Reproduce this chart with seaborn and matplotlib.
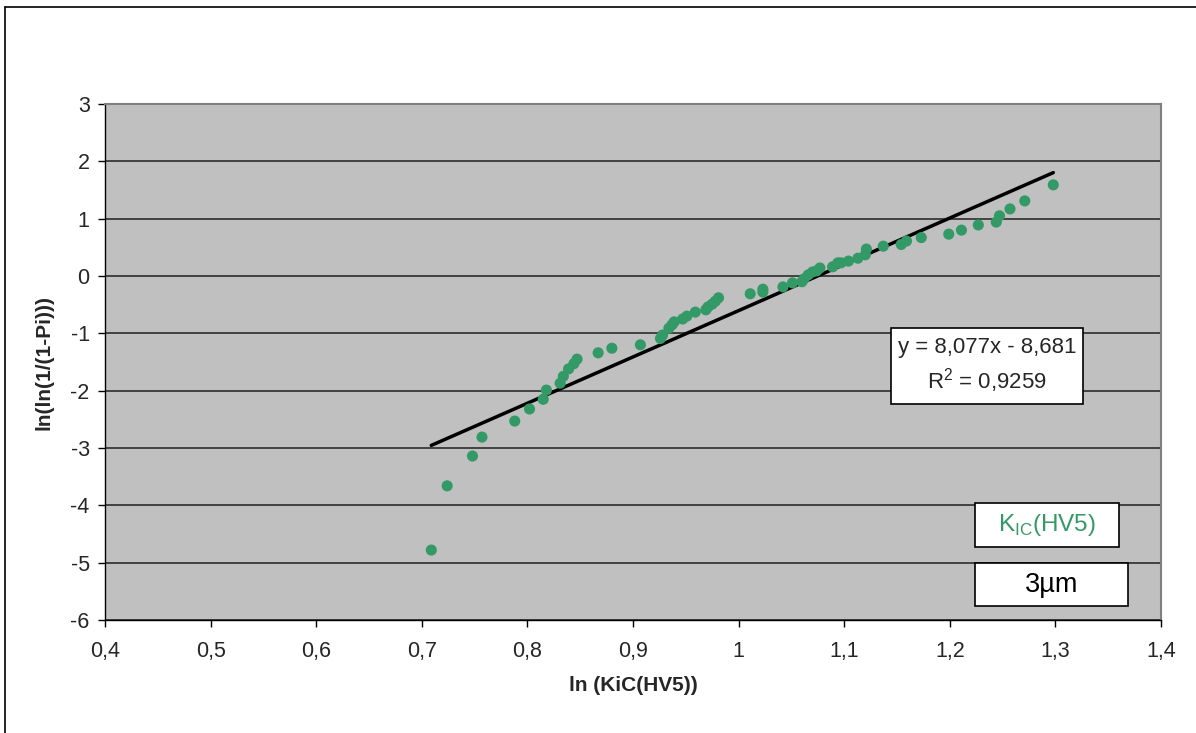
import numpy as np
import pandas as pd
import matplotlib
matplotlib.use("Agg")
import matplotlib.pyplot as plt
from matplotlib.ticker import FuncFormatter, MultipleLocator
from matplotlib.lines import Line2D
from matplotlib.patches import Rectangle
import seaborn as sns

# ln(KiC(HV5)) values and the matching Weibull ln(ln(1/(1-Pi)))
ln_kic = [0.709, 0.724, 0.748, 0.757, 0.788, 0.802, 0.815, 0.818, 0.831, 0.834,
          0.839, 0.844, 0.847, 0.867, 0.880, 0.907, 0.926, 0.928, 0.934, 0.937,
          0.939, 0.947, 0.951, 0.959, 0.969, 0.971, 0.975, 0.978, 0.981, 1.011,
          1.023, 1.023, 1.042, 1.051, 1.060, 1.062, 1.066, 1.070, 1.074, 1.077,
          1.089, 1.094, 1.097, 1.104, 1.113, 1.120, 1.121, 1.137, 1.154, 1.159,
          1.173, 1.199, 1.211, 1.227, 1.244, 1.247, 1.257, 1.271, 1.298]
ln_ln_p = [-4.78, -3.66, -3.14, -2.81, -2.53, -2.32, -2.15, -1.99, -1.87, -1.75,
           -1.62, -1.53, -1.45, -1.34, -1.26, -1.20, -1.09, -1.03, -0.91, -0.85,
           -0.80, -0.75, -0.70, -0.63, -0.59, -0.54, -0.49, -0.44, -0.38, -0.31,
           -0.28, -0.23, -0.19, -0.12, -0.10, -0.05, 0.02, 0.07, 0.09, 0.14,
           0.16, 0.23, 0.23, 0.26, 0.31, 0.37, 0.47, 0.52, 0.55, 0.61,
           0.67, 0.73, 0.80, 0.89, 0.94, 1.05, 1.17, 1.31, 1.59]

# Excel linear trendline
slope = 8.077
intercept = -8.681
r2 = 0.9259

green = "#339966"

df = pd.DataFrame({"x": ln_kic, "y": ln_ln_p})
trend = pd.DataFrame({"x": [min(ln_kic), max(ln_kic)]})
trend["y"] = slope * trend["x"] + intercept

sns.set_style("white")
plt.rcParams['font.family'] = ['Liberation Sans', 'DejaVu Sans']

W, H = 1196, 733
fig = plt.figure(figsize=(W / 100, H / 100), dpi=100)
ax = fig.add_axes([105/W, 1 - 620/H, 1056/W, 516/H])
ax.set_facecolor("#C0C0C0")

ax.set_xlim(0.4, 1.4)
ax.set_ylim(-6, 3)
ax.xaxis.set_major_locator(MultipleLocator(0.1))
ax.yaxis.set_major_locator(MultipleLocator(1))
ax.yaxis.grid(True, color="#202020", linewidth=1.1)
ax.xaxis.grid(False)
ax.set_axisbelow(True)

sns.lineplot(data=trend, x="x", y="y", ax=ax, color="black", linewidth=2.5, zorder=2)
sns.scatterplot(data=df, x="x", y="y", ax=ax, color=green, s=64, edgecolor="none", zorder=3)

fmt = lambda v, pos: ("%g" % round(v, 2)).replace(".", ",")
ax.xaxis.set_major_formatter(FuncFormatter(fmt))
ax.yaxis.set_major_formatter(FuncFormatter(fmt))
ax.tick_params(axis="both", which="major", direction="out", length=5, width=1,
               color="black", labelsize=15.5, bottom=True, left=True)
ax.tick_params(axis="x", pad=10)
ax.tick_params(axis="y", pad=6)

for side in ["left", "bottom"]:
    ax.spines[side].set_color("black")
    ax.spines[side].set_linewidth(1)
for side in ["top", "right"]:
    ax.spines[side].set_color("#808080")
    ax.spines[side].set_linewidth(1.5)

ax.set_xlabel("ln (KiC(HV5))", fontsize=15, fontweight="bold", labelpad=10)
ax.set_ylabel("ln(ln(1/(1-Pi)))", fontsize=15, fontweight="bold", labelpad=12)


def px_box(x0, y0, x1, y1):
    # pixel box (image coords) -> axes fraction rectangle
    fx0 = (x0 - 105) / 1056
    fx1 = (x1 - 105) / 1056
    fy0 = (620 - y1) / 516
    fy1 = (620 - y0) / 516
    ax.add_patch(Rectangle((fx0, fy0), fx1 - fx0, fy1 - fy0, transform=ax.transAxes,
                           facecolor="white", edgecolor="black", linewidth=1.2,
                           zorder=5, clip_on=False))
    return (fx0 + fx1) / 2, (fy0 + fy1) / 2


# trendline equation box
cx, cy = px_box(891, 328, 1083, 404)
eq = "y = %sx - %s" % (("%.3f" % slope).replace(".", ","), ("%.3f" % -intercept).replace(".", ","))
ax.text(cx, cy, eq + "\n$\\mathregular{R^2}$ = " + ("%.4f" % r2).replace(".", ","),
        transform=ax.transAxes, ha="center", va="center", fontsize=16, linespacing=1.35,
        zorder=6)

# series label boxes
cx, cy = px_box(975, 503, 1119, 547)
ax.text(cx, cy, "K$_{\\mathregular{IC}}$(HV5)", transform=ax.transAxes,
        ha="center", va="center", fontsize=17.5, color=green, zorder=6)
cx, cy = px_box(975, 563, 1128, 606)
ax.text(cx, cy, "3µm", transform=ax.transAxes,
        ha="center", va="center", fontsize=19.5, color="black", zorder=6)

# outer chart border (top and left visible)
fig.add_artist(Line2D([5/W, 1.0], [1 - 7/H, 1 - 7/H], color="black", linewidth=1.2,
                      transform=fig.transFigure))
fig.add_artist(Line2D([5/W, 5/W], [0.0, 1 - 7/H], color="black", linewidth=1.2,
                      transform=fig.transFigure))

fig.savefig("out.png", dpi=100, facecolor="white")
